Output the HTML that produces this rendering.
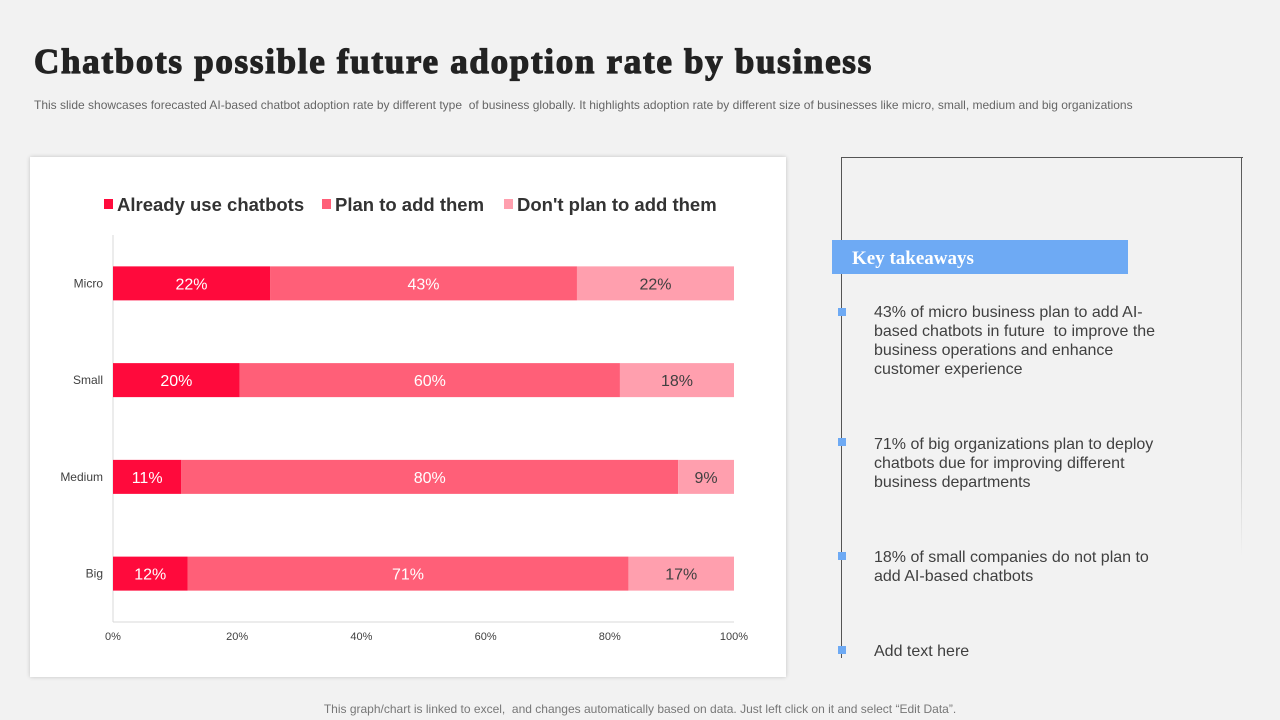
<!DOCTYPE html>
<html><head><meta charset="utf-8">
<style>
body{margin:0;width:1280px;height:720px;background:#f2f2f2;font-family:"Liberation Sans",sans-serif;position:relative;overflow:hidden}
.t{position:absolute;white-space:nowrap}
</style></head><body>
<div class="t" style="left:34px;top:42px;font-size:35px;font-weight:bold;color:#222;font-family:'Liberation Serif',serif;letter-spacing:1.7px;-webkit-text-stroke:1.2px #222">Chatbots possible future adoption rate by business</div>
<div class="t" style="left:34px;top:98px;font-size:12px;color:#666">This slide showcases forecasted AI-based chatbot adoption rate by different type&nbsp; of business globally. It highlights adoption rate by different size of businesses like micro, small, medium and big organizations</div>
<div style="position:absolute;left:30px;top:157px;width:756px;height:520px;background:#fff;box-shadow:0 0 4px rgba(0,0,0,0.2)"></div>
<svg id="chart" width="1280" height="720" style="position:absolute;left:0;top:0"></svg>
<div style="position:absolute;left:841px;top:157px;width:401px;height:500px;border-top:1px solid #555;border-left:1px solid #555;"></div>
<div style="position:absolute;left:1241px;top:157px;width:1px;height:400px;background:linear-gradient(#555,rgba(85,85,85,0))"></div>
<div class="t" style="left:832px;top:240px;width:276px;height:34px;background:#6eaaf4;color:#fff;font-family:'Liberation Serif',serif;font-weight:bold;font-size:19px;line-height:38px;padding-left:20px">Key takeaways</div>
<div style="position:absolute;left:838px;top:308px;width:8px;height:8px;background:#6eaaf4"></div>
<div style="position:absolute;left:838px;top:438px;width:8px;height:8px;background:#6eaaf4"></div>
<div style="position:absolute;left:838px;top:552px;width:8px;height:8px;background:#6eaaf4"></div>
<div style="position:absolute;left:838px;top:646px;width:8px;height:8px;background:#6eaaf4"></div>
<div class="t" style="left:874px;top:303px;font-size:16px;line-height:19px;color:#404040">43% of micro business plan to add AI-<br>based chatbots in future&nbsp; to improve the<br>business operations and enhance<br>customer experience</div>
<div class="t" style="left:874px;top:435px;font-size:16px;line-height:19px;color:#404040">71% of big organizations plan to deploy<br>chatbots due for improving different<br>business departments</div>
<div class="t" style="left:874px;top:548px;font-size:16px;line-height:19px;color:#404040">18% of small companies do not plan to<br>add AI-based chatbots</div>
<div class="t" style="left:874px;top:642px;font-size:16px;line-height:19px;color:#404040">Add text here</div>
<div class="t" style="left:0;width:1280px;text-align:center;top:702px;font-size:12px;color:#777">This graph/chart is linked to excel,&nbsp; and changes automatically based on data. Just left click on it and select “Edit Data”.</div>
<script>
const categories=["Micro","Small","Medium","Big"];
const seriesNames=["Already use chatbots","Plan to add them","Don't plan to add them"];
const already=[22,20,11,12];
const plan=[43,60,80,71];
const dont=[22,18,9,17];
const xTicks=[0,20,40,60,80,100];
const colors=["#ff0a3c","#ff5f78","#ff9fae"];
const NS="http://www.w3.org/2000/svg";
const svg=document.getElementById('chart');
const x0=113,x1=734,yTop=235,yBot=622;
const xs=p=>x0+(x1-x0)*p/100;
const band=(yBot-yTop)/categories.length;
const yc=i=>yTop+band*(i+0.5);
function mk(t,a){const e=document.createElementNS(NS,t);for(const k in a)e.setAttribute(k,a[k]);svg.appendChild(e);return e;}
let ax=mk('line',{x1:x0,y1:yTop,x2:x0,y2:yBot,stroke:'#d9d9d9'});


let bx=mk('line',{x1:x0,y1:yBot,x2:x1,y2:yBot,stroke:'#d9d9d9'});


xTicks.forEach(v=>{const t=mk('text',{x:xs(v),y:640,'text-anchor':'middle','font-size':11,fill:'#404040'});t.textContent=v+'%';

});
const series=[already,plan,dont];
categories.forEach((c,i)=>{
  const tot=already[i]+plan[i]+dont[i];let acc=0;
  const l=mk('text',{x:103,y:yc(i)+4,'text-anchor':'end','font-size':12,fill:'#404040'});l.textContent=c;
  
  
  series.forEach((s,j)=>{
    const a=acc/tot*100,b=(acc+s[i])/tot*100;acc+=s[i];
    const r=mk('rect',{x:xs(a),y:yc(i)-17,width:xs(b)-xs(a),height:34,fill:colors[j]});
    
    
    const t=mk('text',{x:(xs(a)+xs(b))/2,y:yc(i)+6,'text-anchor':'middle','font-size':16,fill:j==2?'#404040':'#fff'});t.textContent=s[i]+'%';
    
    
  });
});
const lx=[104,322,504];
seriesNames.forEach((n,j)=>{
  const r=mk('rect',{x:lx[j],y:199,width:9,height:10,fill:colors[j]});
  
  
  const t=mk('text',{x:lx[j]+13,y:211,'font-size':18.5,'font-weight':'bold',fill:'#333'});t.textContent=n;
  
  
});
</script>
</body></html>
